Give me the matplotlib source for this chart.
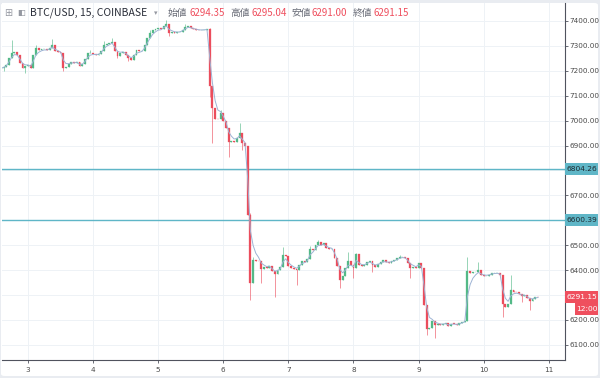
import matplotlib
matplotlib.use("Agg")
import matplotlib.pyplot as plt
from matplotlib.patches import Rectangle, FancyBboxPatch
import numpy as np
import pandas as pd

# ---------------- data (hourly candles) ----------------
start_day = 2 + 14 / 24          # first candle time (day of month)
first_open = 7208
closes = [
    7211, 7214, 7225, 7250, 7270, 7276, 7262, 7232, 7212, 7218,
    7222, 7213, 7262, 7290, 7284, 7286, 7287, 7283, 7292, 7302,
    7278, 7276, 7270, 7212, 7214, 7228, 7234, 7232, 7237, 7218,
    7226, 7248, 7270, 7272, 7268, 7265, 7267, 7280, 7305, 7308,
    7310, 7317, 7280, 7260, 7271, 7277, 7265, 7250, 7245, 7265,
    7282, 7278, 7281, 7305, 7332, 7350, 7362, 7366, 7370, 7366,
    7380, 7388, 7352, 7356, 7352, 7354, 7357, 7365, 7376, 7380,
    7372, 7366, 7364, 7362, 7363, 7365, 7366, 7140, 7050, 7008,
    7005, 7030, 6998, 6972, 6915, 6920, 6915, 6930, 6950, 6912,
    6898, 6620, 6350, 6440, 6436, 6435, 6405, 6412, 6408, 6418,
    6395, 6385, 6400, 6412, 6460, 6458, 6415, 6410, 6405, 6402,
    6422, 6438, 6434, 6445, 6485, 6482, 6500, 6512, 6500, 6508,
    6488, 6484, 6485, 6450, 6418, 6362, 6375, 6410, 6438, 6420,
    6408, 6465, 6420, 6415, 6420, 6432, 6438, 6420, 6414, 6425,
    6432, 6440, 6432, 6430, 6435, 6440, 6447, 6452, 6453, 6448,
    6430, 6410, 6413, 6408, 6428, 6410, 6260, 6165, 6168, 6195,
    6180, 6183, 6180, 6183, 6187, 6174, 6185, 6184, 6180, 6186,
    6192, 6196, 6395, 6390, 6392, 6394, 6400, 6380, 6376, 6378,
    6382, 6388, 6388, 6388, 6382, 6262, 6250, 6262, 6318, 6313,
    6310, 6304, 6294, 6299, 6289, 6276, 6284, 6292, 6291.15,
]
# wick extremes seen in the picture: candle index -> (high, low); None keeps body edge
spikes = {
    1: (None, 7200), 4: (7324, None), 9: (None, 7191), 13: (7305, None),
    19: (7328, None), 23: (None, 7198), 33: (7285, None), 38: (7320, None),
    41: (7332, None), 43: (None, 7252), 47: (None, 7238), 55: (7362, None),
    61: (7404, None), 62: (None, 7340), 68: (7386, None),
    77: (7370, 7096), 78: (None, 6910), 81: (7042, None), 84: (None, 6855),
    88: (6990, None), 89: (None, 6882),
    92: (6630, 6280), 93: (6452, None), 96: (None, 6348), 101: (None, 6293),
    104: (6494, None), 109: (None, 6340), 114: (6496, None), 117: (6520, None),
    125: (None, 6328), 128: (6473, None), 130: (None, 6368),
    131: (6470, None), 137: (None, 6393), 147: (6460, None), 151: (None, 6368),
    157: (None, 6139), 160: (None, 6127), 172: (6453, None), 176: (6434, None),
    185: (None, 6212), 188: (6380, None), 195: (None, 6240), 192: (None, 6270),
}
hlines = [6804.26, 6600.39]
last_price = 6291.15
last_time = "12:00"
day_ticks = [3, 4, 5, 6, 7, 8, 9, 10, 11]
price_ticks = [6100, 6200, 6300, 6400, 6500, 6600, 6700, 6800, 6900,
               7000, 7100, 7200, 7300, 7400]
hidden_tick_labels = [6300, 6600, 6800]   # covered by the axis price boxes
symbol = "BTC/USD, 15, COINBASE"
ohlc_names = ["始値", "高値", "安値", "終値"]
ohlc_vals = ["6294.35", "6295.04", "6291.00", "6291.15"]

# ---------------- derived ----------------
c = np.array(closes, dtype=float)
o = np.concatenate([[first_open], c[:-1]])
h = np.maximum(o, c)
l = np.minimum(o, c)
for i, (hi, lo) in spikes.items():
    if hi is not None:
        h[i] = hi
    if lo is not None:
        l[i] = lo
t = start_day + np.arange(len(c)) / 24.0
ma = pd.Series(c).ewm(span=3).mean().values

UP = "#53b987"
DN = "#eb4d5c"
TEAL = "#5fb6c7"
AX = "#50535e"

fig = plt.figure(figsize=(6.0, 3.78), dpi=100)
fig.patch.set_facecolor("#e9ecf1")
W, H = 600, 378
bg = FancyBboxPatch((1 / W, 2 / H), 597 / W, 373 / H,
                    boxstyle="round,pad=0,rounding_size=0.006",
                    transform=fig.transFigure, fc="white", ec="none", zorder=-5)
fig.patches.append(bg)

L, R, B, T = 2, 565, 360, 3
ax = fig.add_axes([L / W, 1 - B / H, (R - L) / W, (B - T) / H])
ax.set_zorder(1)
ax.set_facecolor("white")
ax.set_xlim(2.601, 11.249)
ax.set_ylim(6039, 7472)

ax.set_xticks(day_ticks)
ax.set_xticklabels([str(d) for d in day_ticks])
ax.set_yticks(price_ticks)
ax.set_yticklabels(["" if p in hidden_tick_labels else f"{p:.2f}" for p in price_ticks])
ax.yaxis.tick_right()
ax.grid(True, color="#eef2f6", lw=0.7, zorder=0)
ax.set_axisbelow(True)
for s in ["left", "top"]:
    ax.spines[s].set_visible(False)
for s in ["right", "bottom"]:
    ax.spines[s].set_color(AX)
    ax.spines[s].set_linewidth(0.8)
ax.tick_params(axis="y", length=2, width=0.6, color=AX, pad=1.5,
               labelsize=5.2, labelcolor="#4a4a4a")
ax.tick_params(axis="x", length=2, width=0.6, color=AX, pad=3,
               labelsize=5.2, labelcolor="#4a4a4a")

# horizontal lines
for y in hlines:
    ax.axhline(y, color=TEAL, lw=1.0, zorder=2)

# candles
cols = np.where(c >= o, UP, DN)
ax.vlines(t, l, h, colors=cols, lw=0.5, alpha=0.85, zorder=3)
bw = 0.7 / 24
ax.bar(t, np.maximum(np.abs(c - o), 2.0), bottom=np.minimum(o, c), width=bw,
       color=cols, edgecolor=cols, lw=0.2, zorder=4)
ax.plot(t, ma, color="#9db3d4", lw=0.7, zorder=5)

# price labels on the axis
tr = ax.get_yaxis_transform()
pp = 100 / 24.9  # price per pixel
def axis_box(y, text, fc, tc, x0=R, x1=598, hpx=12):
    ax.add_patch(Rectangle(((x0 - L) / (R - L), y - hpx / 2 * pp),
                           (x1 - x0) / (R - L), hpx * pp, transform=tr,
                           fc=fc, ec="none", clip_on=False, zorder=6))
    ax.text(((x0 + x1) / 2 - L) / (R - L), y, text, transform=tr,
            ha="center", va="center", fontsize=5.4, color=tc, zorder=7,
            clip_on=False)
for y in hlines:
    axis_box(y, f"{y:.2f}", TEAL, "#1e2a30")
axis_box(last_price, f"{last_price:.2f}", "#ef4f5e", "white")
axis_box(last_price - 11.5 * pp, last_time, "#ef4f5e", "white", x0=575)

# header
fam = ["Noto Sans CJK JP", "DejaVu Sans"]
yh = 1 - 13 / H
fig.text(4 / W, yh, "⊞", fontsize=7, color="#9598a1", va="center", family=fam, zorder=10)
fig.text(17 / W, yh, "◧", fontsize=6, color="#9598a1", va="center", family=["DejaVu Sans"], zorder=10)
fig.text(30 / W, yh, symbol, fontsize=7.5, color="#2a2e39", va="center", family=fam, zorder=10)
fig.text(154 / W, yh, "▾", fontsize=5, color="#9598a1", va="center", family=["DejaVu Sans"], zorder=10)
xs_name = [168, 230, 291, 353]
for x, n, v in zip(xs_name, ohlc_names, ohlc_vals):
    fig.text(x / W, yh, n, fontsize=7, color="#6a6d78", va="center", family=fam, zorder=10)
    fig.text((x + 21) / W, yh, v, fontsize=7, color="#ef4f5e", va="center", family=fam, zorder=10)

fig.savefig("out.png", dpi=100, facecolor=fig.get_facecolor())
